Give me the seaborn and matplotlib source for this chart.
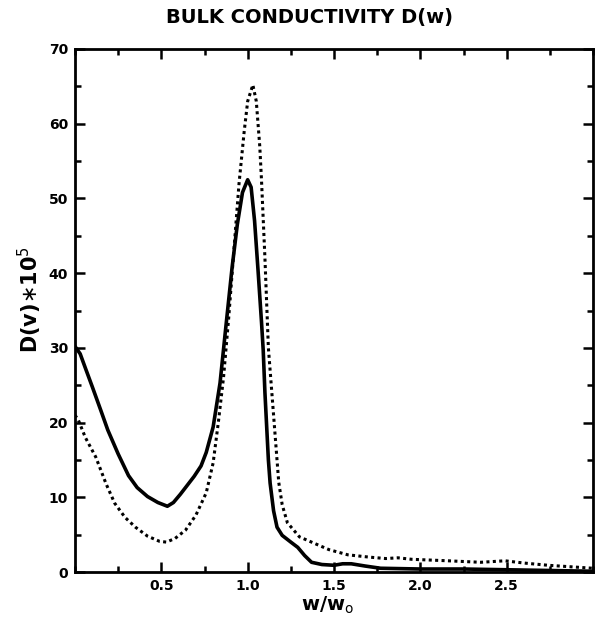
import matplotlib
matplotlib.use("Agg")
import matplotlib.pyplot as plt
import seaborn as sns
import numpy as np
import pandas as pd
from matplotlib.ticker import MultipleLocator, FixedLocator

# ---- data ----
solid_x = [0.0, 0.03, 0.06, 0.10, 0.15, 0.19, 0.25, 0.31, 0.36, 0.42, 0.48, 0.535,
           0.57, 0.61, 0.64, 0.69, 0.73, 0.76, 0.80, 0.84, 0.87, 0.91, 0.94, 0.97,
           1.00, 1.02, 1.04, 1.06, 1.08, 1.09, 1.10, 1.12, 1.13, 1.15, 1.17, 1.20,
           1.25, 1.29, 1.33, 1.37, 1.43, 1.50, 1.55, 1.60, 1.68, 1.77, 2.0, 2.25,
           2.5, 2.75, 3.0]
solid_y = [30.2, 29.2, 27.3, 24.8, 21.6, 19.0, 15.8, 12.9, 11.3, 10.1, 9.3, 8.8,
           9.3, 10.4, 11.3, 12.8, 14.2, 16.0, 19.4, 25.3, 32.0, 40.8, 46.5, 50.8,
           52.5, 51.5, 47.0, 40.4, 33.5, 29.7, 24.0, 15.0, 11.9, 8.2, 6.0, 4.9,
           4.0, 3.3, 2.2, 1.3, 1.0, 0.9, 1.1, 1.1, 0.8, 0.5, 0.4, 0.4,
           0.3, 0.2, 0.1]

dotted_x = [0.0, 0.02, 0.06, 0.12, 0.18, 0.23, 0.29, 0.35, 0.42, 0.49, 0.53, 0.58,
            0.64, 0.70, 0.76, 0.80, 0.83, 0.86, 0.89, 0.92, 0.95, 0.98, 1.00, 1.03,
            1.05, 1.07, 1.08, 1.10, 1.12, 1.15, 1.18, 1.20, 1.23, 1.30, 1.38, 1.47,
            1.58, 1.70, 1.80, 1.87, 1.95, 2.16, 2.35, 2.49, 2.60, 2.74, 3.0]
dotted_y = [21.0, 20.3, 18.0, 15.4, 11.8, 9.2, 7.3, 6.0, 4.8, 4.1, 4.0, 4.5,
            5.6, 7.6, 10.6, 14.6, 20.0, 26.0, 34.0, 43.0, 52.0, 59.0, 63.0, 65.2,
            63.0, 57.0, 52.5, 42.0, 30.0, 21.0, 12.0, 9.0, 6.6, 4.7, 3.9, 3.0,
            2.3, 2.0, 1.8, 1.9, 1.7, 1.5, 1.3, 1.5, 1.2, 0.9, 0.5]

x_ticks = [0.5, 1.0, 1.5, 2.0, 2.5]
x_tick_labels = ["0.5", "1.0", "1.5", "2.0", "2.5"]
y_ticks = [0, 10, 20, 30, 40, 50, 60, 70]

title = "BULK CONDUCTIVITY D(w)"
xlabel = r"w/w$_\mathrm{o}$"
ylabel = r"D(v)$\ast$10$^{5}$"

sns.set_style("ticks")
plt.rcParams["font.family"] = ["DejaVu Sans"]
plt.rcParams["text.color"] = "black"
plt.rcParams["xtick.color"] = "black"
plt.rcParams["ytick.color"] = "black"

fig = plt.figure(figsize=(6.01, 6.33), dpi=100)
ax = fig.add_axes([75/601, 1-572/633, (593-75)/601, (572-49)/633])

df_s = pd.DataFrame({"x": solid_x, "y": solid_y})
df_d = pd.DataFrame({"x": dotted_x, "y": dotted_y})
sns.lineplot(data=df_s, x="x", y="y", ax=ax, color="black", linewidth=2.6, sort=False)
sns.lineplot(data=df_d, x="x", y="y", ax=ax, color="black", linewidth=2.2, sort=False,
             linestyle=(0, (1.0, 1.1)))

ax.set_xlim(0, 3.0)
ax.set_ylim(0, 70)
ax.xaxis.set_major_locator(FixedLocator(x_ticks))
ax.set_xticklabels(x_tick_labels)
ax.xaxis.set_minor_locator(MultipleLocator(0.25))
ax.yaxis.set_major_locator(FixedLocator(y_ticks))
ax.yaxis.set_minor_locator(MultipleLocator(5))
ax.tick_params(which="both", direction="in", top=True, right=True, width=1.8,
               color="black", labelcolor="black")
ax.tick_params(which="major", length=7, labelsize=10, pad=5)
ax.tick_params(which="minor", length=4)
for lab in ax.get_xticklabels() + ax.get_yticklabels():
    lab.set_fontweight("bold")
for sp in ax.spines.values():
    sp.set_visible(True)
    sp.set_linewidth(2.0)
    sp.set_color("black")

ax.set_xlabel("")
ax.set_ylabel("")
fig.text(327/601, 1-605/633, xlabel, ha="center", va="center", fontsize=14,
         fontweight="bold", color="black")
fig.text(30/601, 1-300/633, ylabel, ha="center", va="center", rotation=90, fontsize=15,
         fontweight="bold", color="black")
fig.text(310/601, 1-18/633, title, ha="center", va="center", fontsize=14,
         fontweight="bold", color="black")

fig.savefig("out.png", dpi=100, facecolor="white")
